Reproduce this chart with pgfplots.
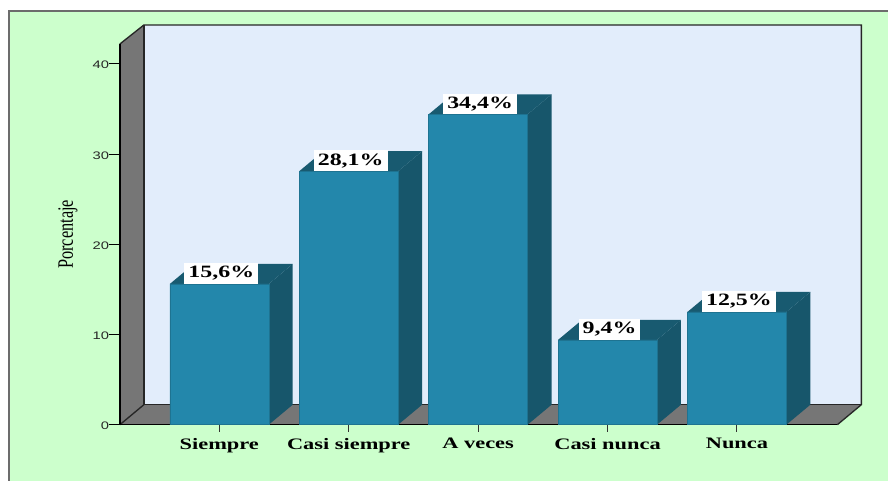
\documentclass[border=0pt]{standalone}
\usepackage{fontspec}
\usepackage{pgfplots}
\pgfplotsset{compat=1.18}
\newfontfamily\serifwide[FakeStretch=1.4]{Liberation Serif}
\newfontfamily\valfont[FakeStretch=1.38]{Liberation Serif}
\newfontfamily\sanswide[FakeStretch=1.35]{Liberation Sans}
\newfontfamily\narrowserif[FakeStretch=0.74]{Liberation Serif}
\definecolor{pagegreen}{HTML}{CCFFCC}
\definecolor{panel}{HTML}{E2EDFB}
\definecolor{wall}{HTML}{767676}
\definecolor{barfront}{HTML}{2387AB}
\definecolor{barside}{HTML}{17566B}
\definecolor{bartop}{HTML}{185A70}
\begin{document}
\begin{tikzpicture}[x=0.75pt,y=-0.75pt]
% page and frame
\fill[white] (0,0) rectangle (889,481);
\fill[pagegreen] (9,11) rectangle (889,481);
\draw[gray!85!black,line width=1pt] (9,481) -- (9,11) -- (889,11);
% walls of the 3D box
\fill[panel] (144,25) rectangle (862,405);
\fill[wall] (120,44) -- (144,25) -- (144,405) -- (120,425) -- cycle;
\fill[wall] (120,425) -- (144,405) -- (862,405) -- (838,425) -- cycle;
\draw[black!85,line width=1pt] (120,44) -- (144,25) -- (862,25) -- (862,405) -- (838,425);
\draw[black!85,line width=1pt] (144,25) -- (144,405) -- (862,405);
\draw[black!85,line width=1pt] (120,425) -- (144,405);
\begin{axis}[
  at={(90pt,-318.75pt)},anchor=south west,
  scale only axis,
  width=538.5pt,height=285.75pt,
  xmin=-0.768,xmax=4.776,ymin=0,ymax=42.2,
  clip=false,
  axis x line=bottom,axis y line=left,
  axis line style={-,black,line width=1.1pt},
  tick align=outside,
  xtick={0,1,2,3,4},
  xticklabels={Siempre,Casi siempre,A veces,Casi nunca,Nunca},
  ytick={0,10,20,30,40},
  xtick style={black!80,line width=0.8pt,/pgfplots/major tick length=5.25pt},
  ytick style={black,line width=0.8pt,/pgfplots/major tick length=8.25pt},
  x tick label style={font=\serifwide\bfseries\fontsize{12pt}{13pt}\selectfont,text=black,inner sep=0pt,yshift=-5.5pt},
  y tick label style={font=\sanswide\fontsize{8.2pt}{9pt}\selectfont,text=black!85,inner sep=0.75pt,xshift=-3pt,yshift=-1pt,/pgf/number format/assume math mode=true},
  ylabel={Porcentaje},
  y label style={at={(rel axis cs:-0.0724,0.5)},anchor=center,font=\narrowserif\fontsize{16.5pt}{17pt}\selectfont},
]
% side faces
\addplot[fill=barside,draw=none,forget plot] coordinates {(0.3822,0) (0.5675,2.215) (0.5675,17.815) (0.3822,15.6)} -- cycle;
\addplot[fill=barside,draw=none,forget plot] coordinates {(1.3822,0) (1.5675,2.215) (1.5675,30.315) (1.3822,28.1)} -- cycle;
\addplot[fill=barside,draw=none,forget plot] coordinates {(2.3822,0) (2.5675,2.215) (2.5675,36.615) (2.3822,34.4)} -- cycle;
\addplot[fill=barside,draw=none,forget plot] coordinates {(3.3822,0) (3.5675,2.215) (3.5675,11.615) (3.3822,9.4)} -- cycle;
\addplot[fill=barside,draw=none,forget plot] coordinates {(4.3822,0) (4.5675,2.215) (4.5675,14.715) (4.3822,12.5)} -- cycle;
% top faces
\addplot[fill=bartop,draw=none,forget plot] coordinates {(-0.3822,15.6) (-0.1969,17.815) (0.5675,17.815) (0.3822,15.6)} -- cycle;
\addplot[fill=bartop,draw=none,forget plot] coordinates {(0.6178,28.1) (0.8031,30.315) (1.5675,30.315) (1.3822,28.1)} -- cycle;
\addplot[fill=bartop,draw=none,forget plot] coordinates {(1.6178,34.4) (1.8031,36.615) (2.5675,36.615) (2.3822,34.4)} -- cycle;
\addplot[fill=bartop,draw=none,forget plot] coordinates {(2.6178,9.4) (2.8031,11.615) (3.5675,11.615) (3.3822,9.4)} -- cycle;
\addplot[fill=bartop,draw=none,forget plot] coordinates {(3.6178,12.5) (3.8031,14.715) (4.5675,14.715) (4.3822,12.5)} -- cycle;
% front faces with value labels
\addplot[ybar,bar width=0.7644,fill=barfront,draw=barfront!85!black,line width=0.3pt,
  nodes near coords={\pgfmathprintnumber[fixed,fixed zerofill,precision=1,use comma,assume math mode=true]{\pgfplotspointmeta}\%},
  nodes near coords style={anchor=south,fill=white,inner xsep=3pt,inner ysep=0pt,xshift=1.5pt,
    text height=11pt,text depth=4.4pt,font=\valfont\bfseries\fontsize{13pt}{14pt}\selectfont,text=black},
] coordinates {(0,15.6) (1,28.1) (2,34.4) (3,9.4) (4,12.5)};
\end{axis}
\end{tikzpicture}
\end{document}
